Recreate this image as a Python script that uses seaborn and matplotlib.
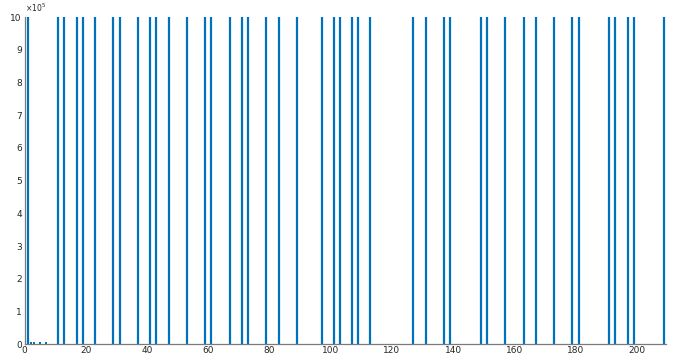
import matplotlib
matplotlib.use("Agg")
import matplotlib.pyplot as plt
import numpy as np
import pandas as pd
import seaborn as sns
from matplotlib.ticker import FuncFormatter

# positions of the spikes (tall ones reach 1e6)
tall_x = [1, 11, 13, 17, 19, 23, 29, 31, 37, 41, 43, 47, 53, 59, 61, 67, 71, 73,
          79, 83, 89, 97, 101, 103, 107, 109, 113, 127, 131, 137, 139, 149, 151,
          157, 163, 167, 173, 179, 181, 191, 193, 197, 199, 209]
tall_y = [1e6] * len(tall_x)
# tiny marks sitting on the x axis
small_x = [2, 3, 5, 7]
small_y = [4000, 4000, 4000, 4000]

x_ticks = [0, 20, 40, 60, 80, 100, 120, 140, 160, 180, 200]
y_ticks = [0, 1e5, 2e5, 3e5, 4e5, 5e5, 6e5, 7e5, 8e5, 9e5, 1e6]

tall = pd.DataFrame({'n': tall_x, 'value': tall_y})
small = pd.DataFrame({'n': small_x, 'value': small_y})

sns.set_style('white')
plt.rcParams['font.family'] = ['DejaVu Sans']

fig = plt.figure(figsize=(6.76, 3.56), dpi=100)
ax = fig.add_axes([0.0365, 0.033, 0.948, 0.919])

# spikes as vertical lines from 0 up to each value
ax.vlines(tall['n'], 0, tall['value'], color='#0072BD', linewidth=1.6)
sns.scatterplot(data=small, x='n', y='value', color='#0072BD', marker='s',
                s=2.5, linewidth=0, ax=ax, legend=False, clip_on=False)

ax.set_xlim(0, 209.4)
ax.set_ylim(0, 1e6)
ax.set_xticks(x_ticks)
ax.set_yticks(y_ticks)
ax.yaxis.set_major_formatter(FuncFormatter(lambda v, p: f'{v / 1e5:g}'))
ax.set_xlabel('')
ax.set_ylabel('')

sns.despine(ax=ax)
for side in ['left', 'bottom']:
    ax.spines[side].set_color('#7a7a7a')
    ax.spines[side].set_linewidth(0.9)
ax.tick_params(axis='both', direction='in', colors='#7a7a7a', labelcolor='#262626',
               labelsize=6.5, width=0.6)
ax.tick_params(axis='x', length=5, pad=1.5)
ax.tick_params(axis='y', length=4, pad=2)

ax.text(0.0, 1.008, r'$\times10^5$', transform=ax.transAxes, fontsize=5.5,
        color='#262626', ha='left', va='bottom')

fig.savefig('out.png', dpi=100)
